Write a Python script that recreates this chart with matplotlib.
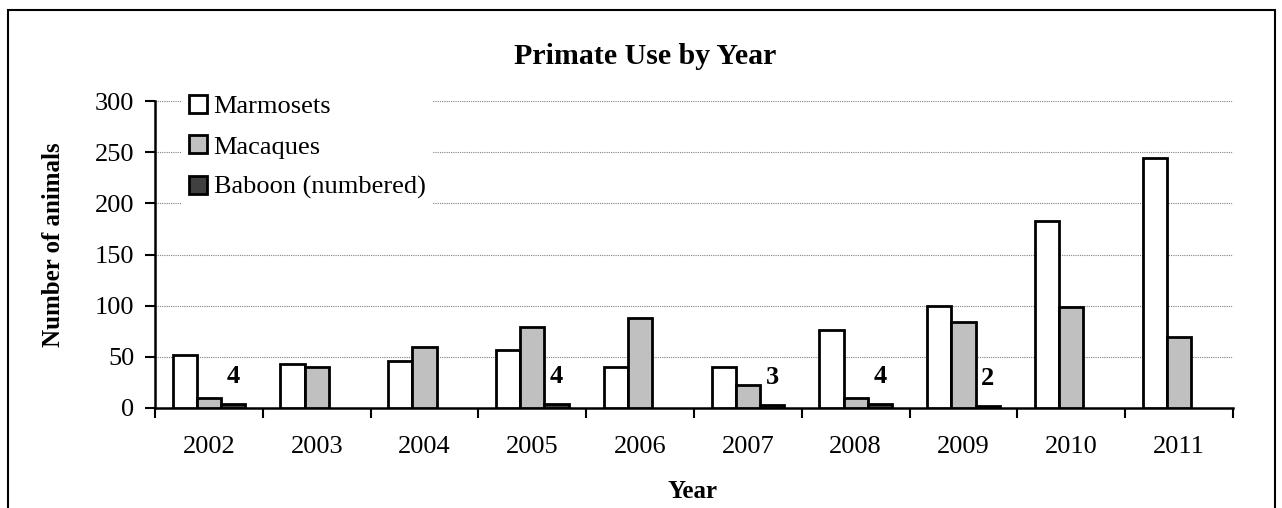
import numpy as np
import matplotlib
matplotlib.use("Agg")
import matplotlib.pyplot as plt
from matplotlib.patches import Rectangle

plt.rcParams['font.family'] = ['Liberation Serif', 'DejaVu Serif']

# data
years = ["2002", "2003", "2004", "2005", "2006", "2007", "2008", "2009", "2010", "2011"]
marmosets = [52, 43, 46, 57, 40, 40, 76, 100, 183, 244]
macaques = [10, 40, 60, 79, 88, 22, 10, 84, 99, 69]
baboons = [4, 0, 0, 4, 0, 3, 4, 2, 0, 0]

W, H = 1282, 508
fig = plt.figure(figsize=(W / 100, H / 100), dpi=100)
# plot area in pixels: left 155, right 1233, top 101, bottom 408
ax = fig.add_axes([155 / W, 1 - 408 / H, (1233 - 155) / W, (408 - 101) / H])

# outer frame around the whole chart
fig.patches.append(Rectangle((8 / W, -0.05), (1275 - 8) / W, 1.05 - 10 / H,
                             transform=fig.transFigure, fill=False,
                             edgecolor="black", linewidth=1.5))

x = np.arange(len(years))
bw = 0.225
ax.bar(x - bw, marmosets, bw, color="white", edgecolor="black", linewidth=2,
       label="Marmosets", zorder=3)
ax.bar(x, macaques, bw, color="#c0c0c0", edgecolor="black", linewidth=2,
       label="Macaques", zorder=3)
bab = np.array(baboons)
ax.bar(x[bab > 0] + bw, bab[bab > 0], bw, color="#404040", edgecolor="black",
       linewidth=2, label="Baboon (numbered)", zorder=3)

for xi, v in zip(x, baboons):
    if v > 0:
        ax.annotate(str(v), (xi + bw, v), xytext=(0, 19.5), textcoords="offset points",
                    ha="center", va="center", fontsize=19, fontweight="bold")

ax.set_xlim(-0.5, len(years) - 0.5)
ax.set_ylim(0, 300)
ax.set_yticks(np.arange(0, 301, 50))
ax.yaxis.grid(True, linestyle=(0, (1, 1)), color="#808080", linewidth=0.8, zorder=0)
ax.set_axisbelow(True)

ax.set_xticks(np.arange(-0.5, len(years) + 0.5, 1))
ax.set_xticklabels([])
ax.set_xticks(x, minor=True)
ax.set_xticklabels(years, minor=True)
ax.tick_params(axis="x", which="major", length=7.5, width=1.5, direction="out")
ax.tick_params(axis="x", which="minor", length=0, pad=20, labelsize=19)
ax.tick_params(axis="y", length=7, width=1.5, direction="out", labelsize=19, pad=8)

for s in ["top", "right"]:
    ax.spines[s].set_visible(False)
ax.spines["left"].set_linewidth(1.8)
ax.spines["bottom"].set_linewidth(1.8)

fig.text(54 / W, 1 - 245 / H, "Number of animals", rotation=90, ha="center",
         va="center", fontsize=18, fontweight="bold")
fig.text(693 / W, 1 - 491 / H, "Year", ha="center", va="center",
         fontsize=18, fontweight="bold")
fig.text(645 / W, 1 - 56 / H, "Primate Use by Year", ha="center", va="center",
         fontsize=21.5, fontweight="bold")

leg = ax.legend(loc="upper left", bbox_to_anchor=(182 / W, 1 - 88 / H),
                bbox_transform=fig.transFigure, fontsize=19,
                frameon=True, edgecolor="none", facecolor="white", framealpha=1,
                handlelength=0.68, handleheight=0.68, handletextpad=0.25,
                labelspacing=0.64, borderaxespad=0, borderpad=0.27, fancybox=False)
leg.set_zorder(5)

fig.savefig("out.png", dpi=100)
